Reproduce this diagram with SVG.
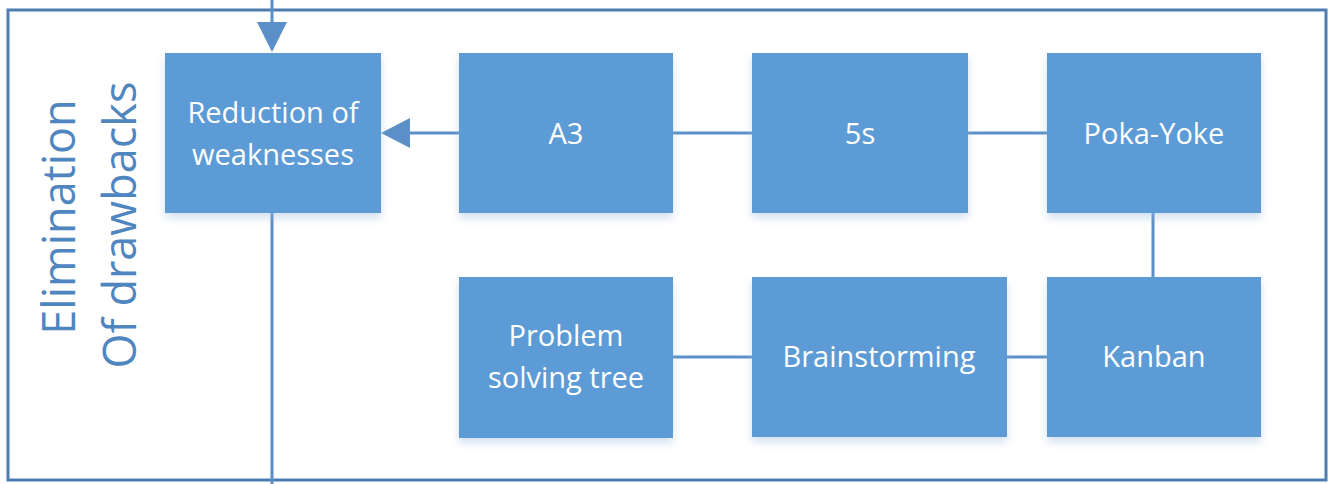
<svg xmlns="http://www.w3.org/2000/svg" width="1335" height="484" viewBox="0 0 1335 484">
<defs>
<style>
.box{fill:#5b9bd5;filter:url(#sh);}
.lbl{font-family:"Open Sans","Noto Sans",sans-serif;font-size:29px;fill:#ffffff;text-anchor:middle;}
.side{font-family:"Open Sans","Noto Sans",sans-serif;font-size:45px;fill:#4f86c0;text-anchor:middle;}
.con{stroke:#5b8fc7;stroke-width:3;fill:none;}
.frame{stroke:#4f7cb0;stroke-width:3;fill:none;}
</style>
<filter id="sh" x="-10%" y="-10%" width="120%" height="130%">
<feDropShadow dx="0" dy="5" stdDeviation="4" flood-color="#9bbbe0" flood-opacity="0.45"/>
</filter>
</defs>
<rect x="0" y="0" width="1335" height="484" fill="#ffffff"/>
<rect class="frame" x="8" y="10" width="1318" height="470"/>
<g id="side-label">
<text class="side" transform="translate(75,217) rotate(-90)">Elimination</text>
<text class="side" transform="translate(136,225) rotate(-90)">Of drawbacks</text>
</g>
<g id="connectors">
<line class="con" x1="272" y1="0" x2="272" y2="30"/>
<path d="M257,22 L287,22 L272,52 Z" fill="#5b8fc7"/>
<line class="con" x1="272" y1="213" x2="272" y2="484"/>
<line class="con" x1="459" y1="133" x2="410" y2="133"/>
<path d="M410,118 L410,148 L381,133 Z" fill="#5b8fc7"/>
<line class="con" x1="673" y1="133" x2="752" y2="133"/>
<line class="con" x1="968" y1="133" x2="1047" y2="133"/>
<line class="con" x1="1153" y1="213" x2="1153" y2="277"/>
<line class="con" x1="673" y1="357" x2="752" y2="357"/>
<line class="con" x1="1007" y1="357" x2="1047" y2="357"/>
</g>
<g id="reduction">
<rect class="box" x="165" y="53" width="216" height="160"/>
<text class="lbl" x="273" y="123">Reduction of</text>
<text class="lbl" x="273" y="165">weaknesses</text>
</g>
<g id="a3">
<rect class="box" x="459" y="53" width="214" height="160"/>
<text class="lbl" x="566" y="144">A3</text>
</g>
<g id="s5">
<rect class="box" x="752" y="53" width="216" height="160"/>
<text class="lbl" x="860" y="144">5s</text>
</g>
<g id="pokayoke">
<rect class="box" x="1047" y="53" width="214" height="160"/>
<text class="lbl" x="1154" y="144">Poka-Yoke</text>
</g>
<g id="problem">
<rect class="box" x="459" y="277" width="214" height="161"/>
<text class="lbl" x="566" y="346">Problem</text>
<text class="lbl" x="566" y="388">solving tree</text>
</g>
<g id="brainstorming">
<rect class="box" x="752" y="277" width="255" height="160"/>
<text class="lbl" x="879" y="367">Brainstorming</text>
</g>
<g id="kanban">
<rect class="box" x="1047" y="277" width="214" height="160"/>
<text class="lbl" x="1154" y="367">Kanban</text>
</g>
</svg>
